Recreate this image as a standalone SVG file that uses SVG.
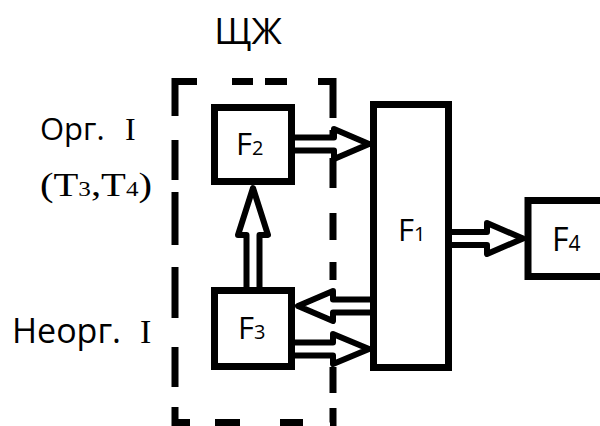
<svg xmlns="http://www.w3.org/2000/svg" width="600" height="426" viewBox="0 0 600 426">
<style>
.box{fill:#fff;stroke:#000;stroke-width:7}
.dash{fill:none;stroke:#000;stroke-width:7;stroke-linecap:butt}
.arr{fill:#fff;stroke:#000;stroke-width:6;stroke-linejoin:round}
.lbl{font-family:"Open Sans","Noto Sans","Liberation Sans",sans-serif;fill:#000}
.ser{font-family:"Liberation Serif","DejaVu Serif",serif;fill:#000}
</style>
<rect width="600" height="426" fill="#fff"/>
<g id="group-szh">
<path class="dash" d="M175,116 V81.5 H197 M232,81.5 H253 M265,81.5 H287 M318,81.5 H333 V118 M175,140 V180 M175,192 V245 M175,267 V318 M175,347 V387 M175,407 V422.5 H190 M215,422.5 H240 M280,422.5 H303 M330,422.5 H333 V408 M333,130 V152 M333,158 V188 M333,213 V240 M333,262 V280 M333,367 V393"/>
<text class="lbl" x="248" y="44" font-size="36" text-anchor="middle">ЩЖ</text>
</g>
<g id="label-org">
<text class="lbl" x="40" y="140" font-size="31">Орг.</text>
<text class="ser" x="125" y="140" font-size="32">I</text>
<text class="ser" x="40" y="196" font-size="34" textLength="112" lengthAdjust="spacingAndGlyphs">(T<tspan font-size="21">3</tspan>,T<tspan font-size="21">4</tspan>)</text>
</g>
<g id="label-neorg">
<text class="lbl" x="12" y="343" font-size="34">Неорг.</text>
<text class="ser" x="140" y="343" font-size="34">I</text>
</g>
<g id="connectors">
<path class="arr" d="M292,137.5 H334 V129 L369,144 L334,159 V150.5 H292"/>
<path class="arr" d="M374,299.5 H333 V291 L298,306 L333,321 V312.5 H374"/>
<path class="arr" d="M292,342.5 H333 V334 L369,349 L333,364 V355.5 H292"/>
<path class="arr" d="M449,232 H487 V223 L523,238.5 L487,254 V245 H449"/>
<path class="arr" d="M246.5,290 V235 H238 L253,188 L268,235 H259.5 V290"/>
</g>
<g id="node-F2">
<rect class="box" x="214.5" y="107.5" width="77" height="74"/>
<text class="lbl" x="236" y="155" font-size="31">F<tspan font-size="20">2</tspan></text>
</g>
<g id="node-F3">
<rect class="box" x="214.5" y="290.5" width="77" height="76"/>
<text class="lbl" x="238" y="339" font-size="31">F<tspan font-size="20">3</tspan></text>
</g>
<g id="node-F1">
<rect class="box" x="373.5" y="104.5" width="75" height="263"/>
<text class="lbl" x="398" y="241" font-size="31">F<tspan font-size="20">1</tspan></text>
</g>
<g id="node-F4">
<rect class="box" x="528" y="200.5" width="80" height="76"/>
<text class="lbl" x="552" y="251" font-size="32">F<tspan font-size="21">4</tspan></text>
</g>
</svg>
